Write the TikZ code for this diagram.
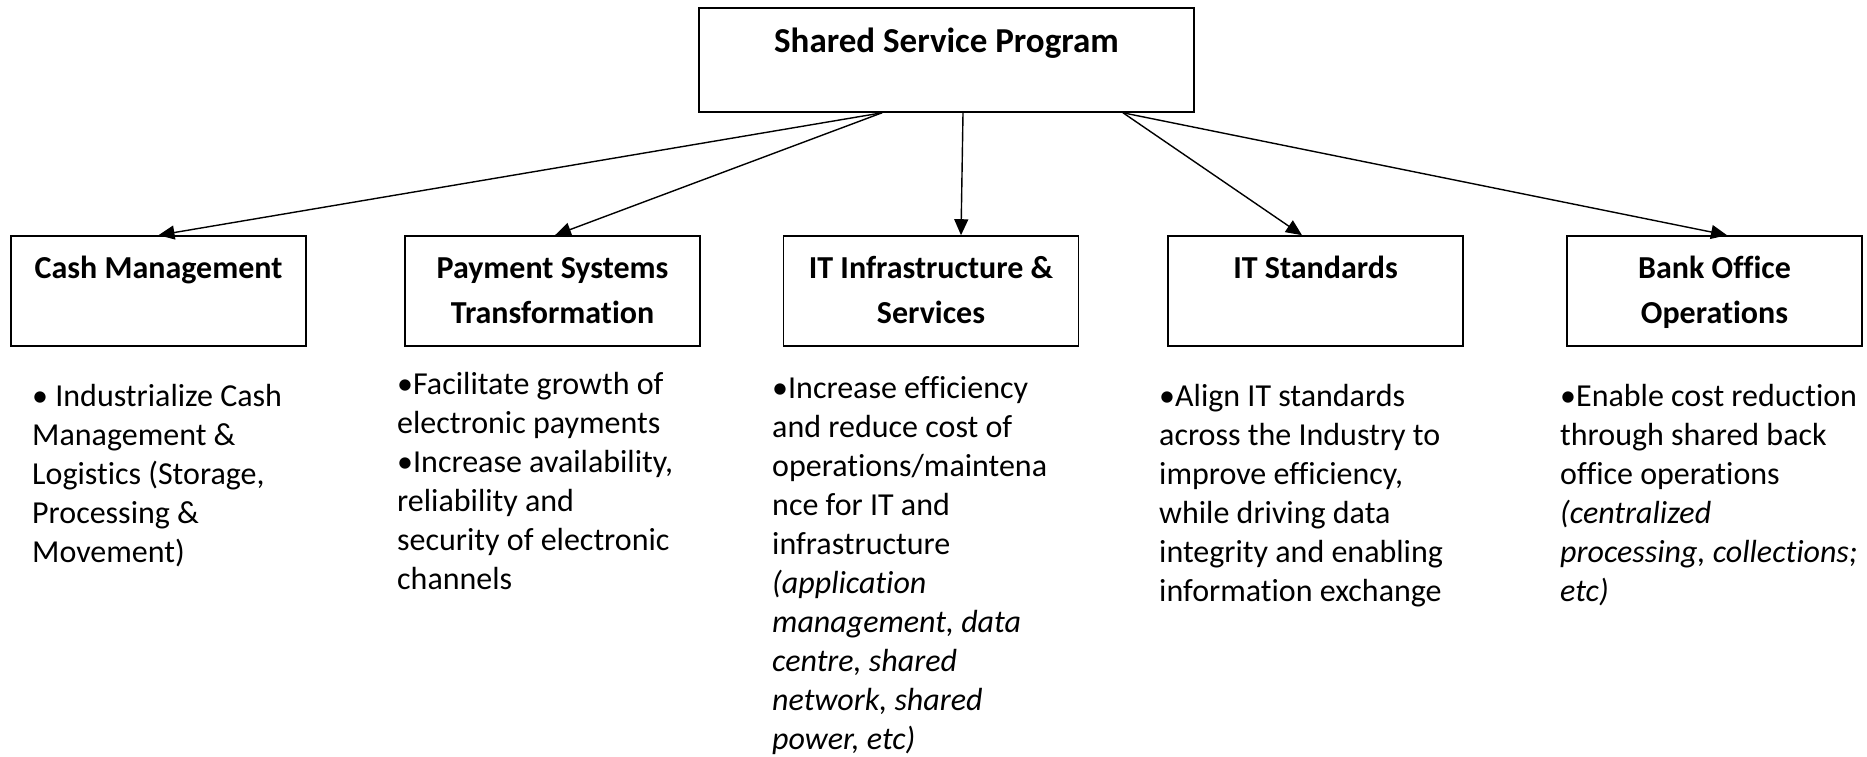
\documentclass[tikz,border=0pt]{standalone}
\usepackage{fontspec}
\setmainfont{Carlito}[Ligatures=NoCommon]
\usepackage{tikz}
\usetikzlibrary{arrows.meta}

\begin{document}
\begin{tikzpicture}[
				x=1pt, y=-1pt,
				block/.style={rectangle, draw=black, line width=1.6pt, inner sep=0pt, minimum width=295pt, minimum height=110pt, align=center,
					font=\fontsize{32}{45}\selectfont\bfseries, text height=77.5pt, text depth=13.5pt},
				note/.style={inner sep=0pt, anchor=north west, align=left,
					font=\fontsize{32}{39}\selectfont, execute at begin node=\strut},
				arrow/.style={-{Triangle[length=16pt, width=14pt]}, line width=1.4pt}
				]
				\useasboundingbox (0,0) rectangle (1867,756);
				% Nodes (second line left empty where the title is short)
				\node (top) [block, minimum width=495pt, minimum height=104pt, font=\fontsize{35}{49}\selectfont\bfseries,
					text height=93pt, text depth=10pt] at (946.5,60) {Shared Service Program\\~};
				\node (cash) [block] at (158.5,291) {Cash Management\\~};
				\node (pay) [block] at (552.5,291) {Payment Systems\\Transformation};
				\node (itinf) [block] at (931,291) {IT Infrastructure \&\\Services};
				\node (itstd) [block] at (1315.5,291) {IT Standards\\~};
				\node (bank) [block] at (1714.5,291) {Bank Office\\Operations};
				
				% Notes
				\node (cashnote) [note] at (32,384.2) {• Industrialize Cash\\Management \&\\Logistics (Storage,\\Processing \&\\Movement)};
				\node (paynote) [note] at (397,372.2) {•Facilitate growth of\\electronic payments\\•Increase availability,\\reliability and\\security of electronic\\channels};
				\node (itinfnote) [note] at (772,376.2) {•Increase efficiency\\and reduce cost of\\operations/maintena\\nce for IT and\\infrastructure\\\itshape (application\\\itshape management, data\\\itshape centre, shared\\\itshape network, shared\\\itshape power, etc)};
				\node (itstdnote) [note] at (1159,384.2) {•Align IT standards\\across the Industry to\\improve efficiency,\\while driving data\\integrity and enabling\\information exchange};
				\node (banknote) [note] at (1560,384.2) {•Enable cost reduction\\through shared back\\office operations\\\itshape (centralized\\\itshape processing, collections;\\\itshape etc)};
				
				% Arrows
				\draw [arrow] ([xshift=-64.5]top.south) -- (cash.north);
				\draw [arrow] ([xshift=-64.5]top.south) -- ([xshift=2.5]pay.north);
				\draw [arrow] ([xshift=16.5]top.south) -- ([xshift=30]itinf.north);
				\draw [arrow] ([xshift=176.5]top.south) -- ([xshift=-13.5]itstd.north);
				\draw [arrow] ([xshift=176.5]top.south) -- ([xshift=12.5]bank.north);
			\end{tikzpicture}
\end{document}
